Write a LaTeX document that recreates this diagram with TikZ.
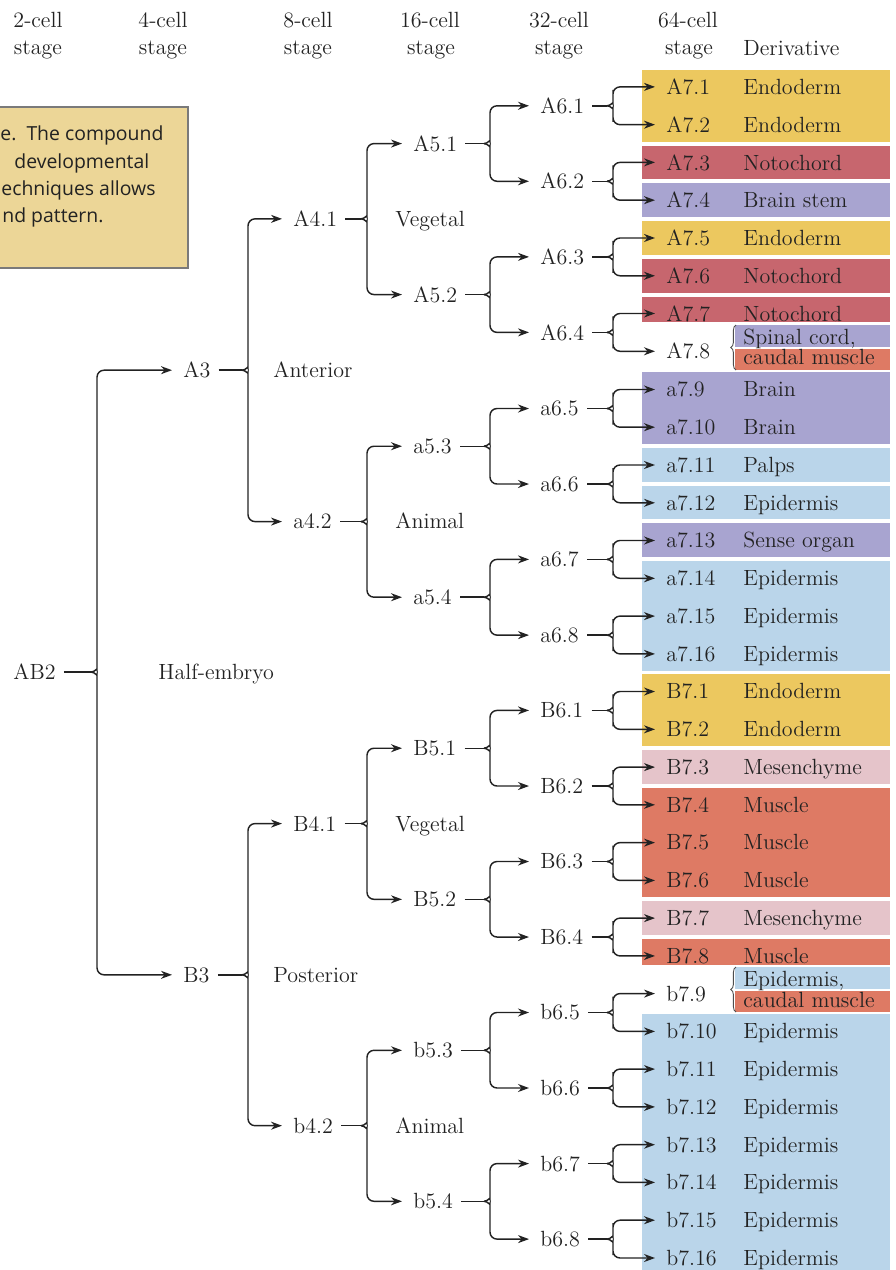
\documentclass[tikz,border=0pt]{standalone}
\usepackage{fontspec}
\newfontfamily\boxfont{Open Sans}
\usetikzlibrary{arrows.meta,calc,decorations.pathreplacing}
\definecolor{ink}{HTML}{222222}
\definecolor{endo}{HTML}{ECC85F}
\definecolor{noto}{HTML}{C7666E}
\definecolor{neur}{HTML}{A8A4D0}
\definecolor{epi}{HTML}{BAD5EA}
\definecolor{mes}{HTML}{E5C4CA}
\definecolor{musc}{HTML}{DE7A64}
\definecolor{tanbox}{HTML}{ECD697}
\tikzset{
  lab/.style={anchor=base west, inner sep=0pt, text=ink},
  hdr/.style={anchor=base, inner sep=0pt, text=ink},
  ln/.style={draw=ink, line width=0.72pt},
  arr/.style={ln, rounded corners=3.5pt, -{Stealth[length=5.5pt,width=4pt]}},
  bandbrace/.style={draw=ink!80, line width=0.45pt, decorate, decoration={brace, amplitude=2.6pt}},
  boxtext/.style={anchor=base west, inner sep=0pt, text=ink, font=\boxfont\fontsize{9.7}{11}\selectfont},
}
\newcommand\cell[4]{\node[lab] (#1) at (#2,{-#3-7.5}) {#4};}
\newcommand\band[3]{\fill[#3] (642,-#1) rectangle (890,-#2);}
\newcommand\halfband[3]{\fill[#3] (735,-#1) rectangle (890,-#2);}
\newcommand\fork[4]{%
  \coordinate (fkv) at (#4,0);
  \coordinate (fkc) at ($(#1.east -| fkv)+(-6,0)$);
  \draw[ln] ([xshift=4pt]#1.east) -- (fkc);
  \draw[arr] (fkc) to[out=0,in=-90] ($(fkc)+(6,9)$) |- ([xshift=-5.5pt]#2.west);
  \draw[arr] (fkc) to[out=0,in=90] ($(fkc)+(6,-9)$) |- ([xshift=-5.5pt]#3.west);
}
\begin{document}
\begin{tikzpicture}[x=0.5pt,y=0.5pt,font=\fontsize{11}{13}\selectfont]
\useasboundingbox (0,0) rectangle (895,-1270);
\fill[white] (0,0) rectangle (895,-1270);

% colour bands
\band{70.1}{141.7}{endo}
\band{145.6}{179.4}{noto}
\band{183.4}{217.2}{neur}
\band{221.2}{255.0}{endo}
\band{259.0}{292.8}{noto}
\band{296.7}{321.5}{noto}
\halfband{324.5}{346.5}{neur}
\halfband{348.5}{369.5}{musc}
\band{372.3}{443.8}{neur}
\band{447.8}{481.6}{epi}
\band{485.6}{519.4}{epi}
\band{523.3}{557.1}{neur}
\band{561.1}{670.5}{epi}
\band{674.4}{746.0}{endo}
\band{750.0}{783.8}{mes}
\band{787.7}{897.1}{musc}
\band{901.0}{934.8}{mes}
\band{938.8}{965.0}{musc}
\halfband{967.0}{989.0}{epi}
\halfband{991.0}{1012.0}{musc}
\band{1014.4}{1270}{epi}

% tan caption box
\filldraw[fill=tanbox, draw=ink!60, line width=0.6pt] (-2,-107) rectangle (188,-268);
\node[boxtext] (bx1) at (0,-140) {e.\ \ The compound};
\node[boxtext] (bx2) at (14,-168) {developmental};
\node[boxtext] (bx3) at (1,-195) {echniques allows};
\node[boxtext] (bx4) at (2,-222) {nd pattern.};

% headers
\node[hdr] (h1a) at (38,-27) {2-cell};   \node[hdr] (h1b) at (38,-54) {stage};
\node[hdr] (h2a) at (163,-27) {4-cell};  \node[hdr] (h2b) at (163,-54) {stage};
\node[hdr] (h3a) at (308,-27) {8-cell};  \node[hdr] (h3b) at (308,-54) {stage};
\node[hdr] (h4a) at (430,-27) {16-cell}; \node[hdr] (h4b) at (431,-54) {stage};
\node[hdr] (h5a) at (559,-27) {32-cell}; \node[hdr] (h5b) at (559,-54) {stage};
\node[hdr] (h6a) at (688,-27) {64-cell}; \node[hdr] (h6b) at (689,-54) {stage};
\node[lab] (h7) at (743,-55) {Derivative};

% 2- and 4-cell
\cell{AB2}{13}{672.4}{AB2}
\cell{A3}{183}{370.3}{A3}
\cell{B3}{183}{974.6}{B3}
% 8-cell
\cell{A41}{293}{219.2}{A4.1}
\cell{a42}{293}{521.4}{a4.2}
\cell{B41}{293}{823.6}{B4.1}
\cell{b42}{293}{1125.7}{b4.2}
% 16-cell
\cell{A51}{413}{143.7}{A5.1}
\cell{A52}{413}{294.7}{A5.2}
\cell{a53}{413}{445.8}{a5.3}
\cell{a54}{413}{596.9}{a5.4}
\cell{B51}{413}{748.0}{B5.1}
\cell{B52}{413}{899.1}{B5.2}
\cell{b53}{413}{1050.2}{b5.3}
\cell{b54}{413}{1201.2}{b5.4}
% 32-cell
\cell{A61}{540}{105.9}{A6.1}
\cell{A62}{540}{181.4}{A6.2}
\cell{A63}{540}{257.0}{A6.3}
\cell{A64}{540}{332.5}{A6.4}
\cell{a65}{540}{408.1}{a6.5}
\cell{a66}{540}{483.6}{a6.6}
\cell{a67}{540}{559.1}{a6.7}
\cell{a68}{540}{634.7}{a6.8}
\cell{B61}{540}{710.2}{B6.1}
\cell{B62}{540}{785.8}{B6.2}
\cell{B63}{540}{861.3}{B6.3}
\cell{B64}{540}{936.8}{B6.4}
\cell{b65}{540}{1012.4}{b6.5}
\cell{b66}{540}{1087.9}{b6.6}
\cell{b67}{540}{1163.5}{b6.7}
\cell{b68}{540}{1239.0}{b6.8}
% 64-cell
\cell{A71}{666}{87.0}{A7.1}
\cell{A72}{666}{124.8}{A7.2}
\cell{A73}{666}{162.5}{A7.3}
\cell{A74}{666}{200.3}{A7.4}
\cell{A75}{666}{238.1}{A7.5}
\cell{A76}{666}{275.9}{A7.6}
\cell{A77}{666}{313.6}{A7.7}
\cell{A78}{666}{351.4}{A7.8}
\cell{a79}{666}{389.2}{a7.9}
\cell{a710}{666}{426.9}{a7.10}
\cell{a711}{666}{464.7}{a7.11}
\cell{a712}{666}{502.5}{a7.12}
\cell{a713}{666}{540.2}{a7.13}
\cell{a714}{666}{578.0}{a7.14}
\cell{a715}{666}{615.8}{a7.15}
\cell{a716}{666}{653.6}{a7.16}
\cell{B71}{666}{691.3}{B7.1}
\cell{B72}{666}{729.1}{B7.2}
\cell{B73}{666}{766.9}{B7.3}
\cell{B74}{666}{804.6}{B7.4}
\cell{B75}{666}{842.4}{B7.5}
\cell{B76}{666}{880.2}{B7.6}
\cell{B77}{666}{917.9}{B7.7}
\cell{B78}{666}{955.7}{B7.8}
\cell{b79}{666}{993.5}{b7.9}
\cell{b710}{666}{1031.3}{b7.10}
\cell{b711}{666}{1069.0}{b7.11}
\cell{b712}{666}{1106.8}{b7.12}
\cell{b713}{666}{1144.6}{b7.13}
\cell{b714}{666}{1182.3}{b7.14}
\cell{b715}{666}{1220.1}{b7.15}
\cell{b716}{666}{1257.9}{b7.16}
% derivatives
\cell{d1}{743}{87.0}{Endoderm}
\cell{d2}{743}{124.8}{Endoderm}
\cell{d3}{743}{162.5}{Notochord}
\cell{d4}{743}{200.3}{Brain stem}
\cell{d5}{743}{238.1}{Endoderm}
\cell{d6}{743}{275.9}{Notochord}
\cell{d7}{743}{313.6}{Notochord}
\node[lab] (d8a) at (743,-344.5) {Spinal cord,};
\node[lab] (d8b) at (743,-364) {caudal muscle};
\cell{d9}{743}{389.2}{Brain}
\cell{d10}{743}{426.9}{Brain}
\cell{d11}{743}{464.7}{Palps}
\cell{d12}{743}{502.5}{Epidermis}
\cell{d13}{743}{540.2}{Sense organ}
\cell{d14}{743}{578.0}{Epidermis}
\cell{d15}{743}{615.8}{Epidermis}
\cell{d16}{743}{653.6}{Epidermis}
\cell{d17}{743}{691.3}{Endoderm}
\cell{d18}{743}{729.1}{Endoderm}
\cell{d19}{743}{766.9}{Mesenchyme}
\cell{d20}{743}{804.6}{Muscle}
\cell{d21}{743}{842.4}{Muscle}
\cell{d22}{743}{880.2}{Muscle}
\cell{d23}{743}{917.9}{Mesenchyme}
\cell{d24}{743}{955.7}{Muscle}
\node[lab] (d25a) at (743,-986.5) {Epidermis,};
\node[lab] (d25b) at (743,-1007) {caudal muscle};
\cell{d26}{743}{1031.3}{Epidermis}
\cell{d27}{743}{1069.0}{Epidermis}
\cell{d28}{743}{1106.8}{Epidermis}
\cell{d29}{743}{1144.6}{Epidermis}
\cell{d30}{743}{1182.3}{Epidermis}
\cell{d31}{743}{1220.1}{Epidermis}
\cell{d32}{743}{1257.9}{Epidermis}

% braces of the split derivatives
\draw[bandbrace] (736,-370) -- (736,-325);
\draw[bandbrace] (736,-1012) -- (736,-967);

% region labels
\cell{veg1}{395}{219.2}{Vegetal}
\cell{ant}{273}{370.3}{Anterior}
\cell{ani1}{395}{521.4}{Animal}
\cell{half}{158}{672.4}{Half-embryo}
\cell{veg2}{395}{823.6}{Vegetal}
\cell{post}{273}{974.6}{Posterior}
\cell{ani2}{395}{1125.7}{Animal}

% lineage forks
\fork{AB2}{A3}{B3}{97}
\fork{A3}{A41}{a42}{248}
\fork{B3}{B41}{b42}{248}
\fork{A41}{A51}{A52}{367}
\fork{a42}{a53}{a54}{367}
\fork{B41}{B51}{B52}{367}
\fork{b42}{b53}{b54}{367}
\fork{A51}{A61}{A62}{490}
\fork{A52}{A63}{A64}{490}
\fork{a53}{a65}{a66}{490}
\fork{a54}{a67}{a68}{490}
\fork{B51}{B61}{B62}{490}
\fork{B52}{B63}{B64}{490}
\fork{b53}{b65}{b66}{490}
\fork{b54}{b67}{b68}{490}
\fork{A61}{A71}{A72}{613}
\fork{A62}{A73}{A74}{613}
\fork{A63}{A75}{A76}{613}
\fork{A64}{A77}{A78}{613}
\fork{a65}{a79}{a710}{613}
\fork{a66}{a711}{a712}{613}
\fork{a67}{a713}{a714}{613}
\fork{a68}{a715}{a716}{613}
\fork{B61}{B71}{B72}{613}
\fork{B62}{B73}{B74}{613}
\fork{B63}{B75}{B76}{613}
\fork{B64}{B77}{B78}{613}
\fork{b65}{b79}{b710}{613}
\fork{b66}{b711}{b712}{613}
\fork{b67}{b713}{b714}{613}
\fork{b68}{b715}{b716}{613}
\end{tikzpicture}
\end{document}
